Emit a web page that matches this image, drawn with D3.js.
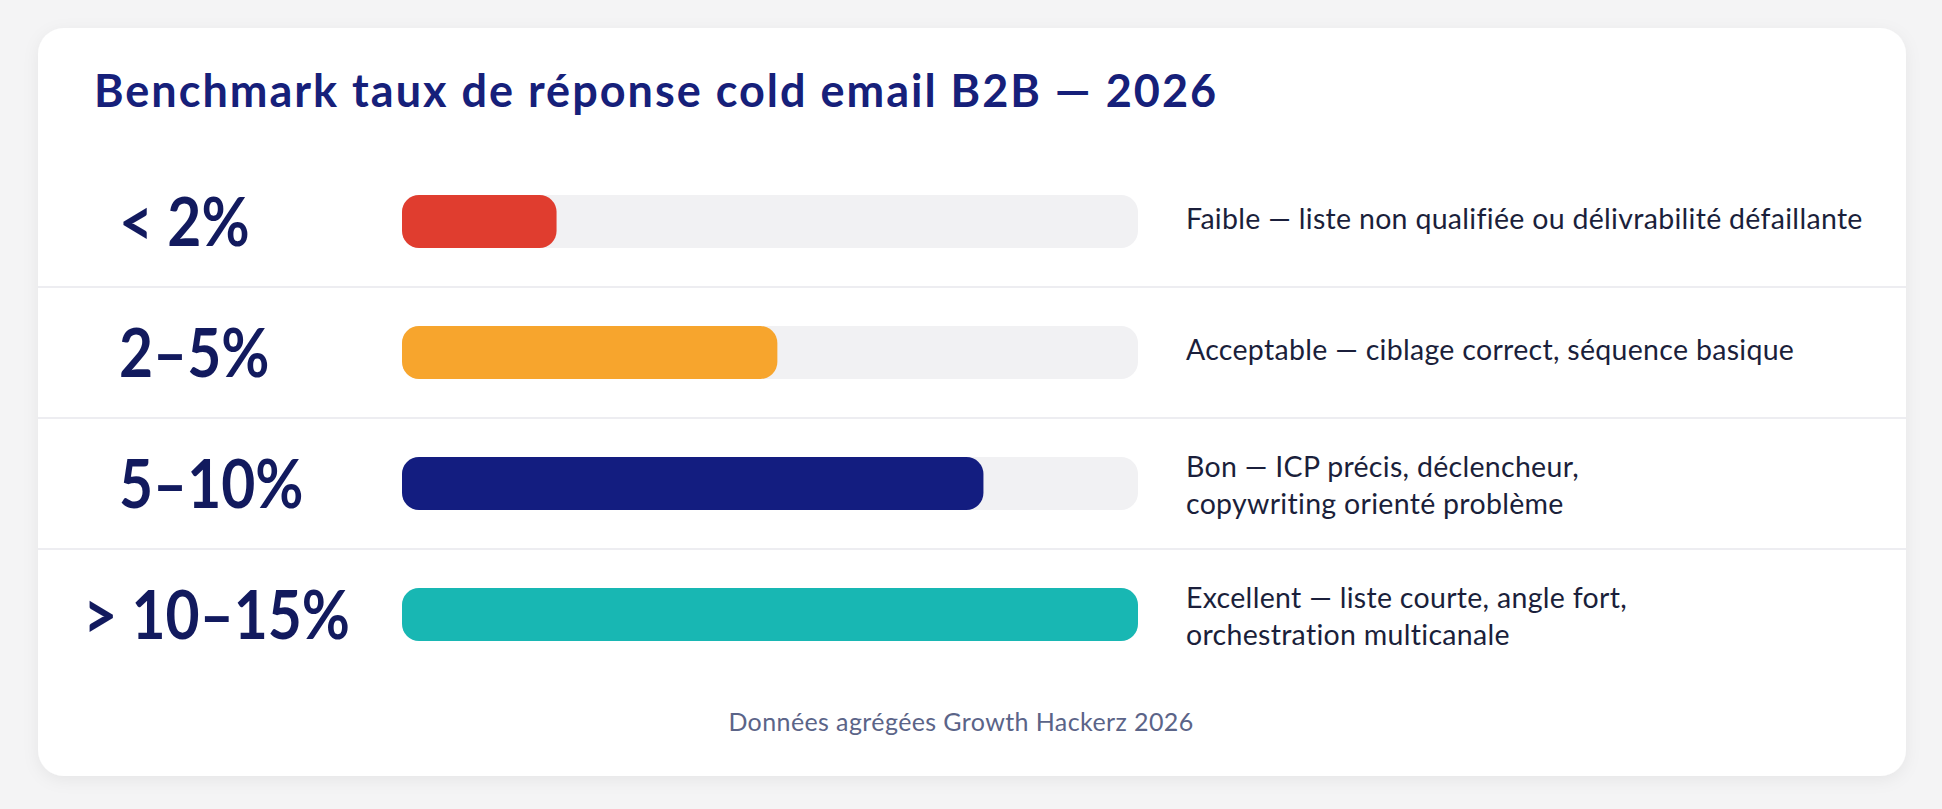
<!DOCTYPE html>
<html>
<head>
<meta charset="utf-8">
<script src="https://cdn.jsdelivr.net/npm/d3@7"></script>
<style>
  html, body { margin: 0; padding: 0; background: #f4f4f5; }
  svg { display: block; }
</style>
</head>
<body>
<svg id="chart"></svg>
<script>
// data
const ranges = ["< 2%", "2–5%", "5–10%", "> 10–15%"];
const scores = [21, 51, 79, 100];   // bar fill, out of 100
const barColors = ["#e03d2f", "#f7a52d", "#131d80", "#18b7b3"];
const notes = [
  ["Faible — liste non qualifiée ou délivrabilité défaillante"],
  ["Acceptable — ciblage correct, séquence basique"],
  ["Bon — ICP précis, déclencheur,", "copywriting orienté problème"],
  ["Excellent — liste courte, angle fort,", "orchestration multicanale"]
];
const title = "Benchmark taux de réponse cold email B2B — 2026";
const source = "Données agrégées Growth Hackerz 2026";

const W = 1942, H = 809;
const card = { x: 38, y: 28, w: 1868, h: 748, r: 26 };

const svg = d3.select("#chart")
  .attr("width", W)
  .attr("height", H);

const defs = svg.append("defs");
const f = defs.append("filter")
  .attr("id", "shadow")
  .attr("x", "-5%").attr("y", "-5%")
  .attr("width", "110%").attr("height", "115%");
f.append("feDropShadow")
  .attr("dx", 0).attr("dy", 4)
  .attr("stdDeviation", 8)
  .attr("flood-color", "#000")
  .attr("flood-opacity", 0.06);

svg.append("rect")
  .attr("x", card.x).attr("y", card.y)
  .attr("width", card.w).attr("height", card.h)
  .attr("rx", card.r)
  .attr("fill", "#ffffff")
  .attr("filter", "url(#shadow)");

svg.append("text")
  .attr("x", 94)
  .attr("y", 107)
  .attr("font-family", "Lato")
  .attr("font-weight", 700)
  .attr("font-size", 45)
  .attr("letter-spacing", 2)
  .attr("fill", "#16207a")
  .text(title);

// scales
const yScale = d3.scaleBand()
  .domain(ranges)
  .range([156, 680]);

const xScale = d3.scaleLinear()
  .domain([0, 100])
  .range([402, 1138]);

const barH = 53;
const rows = ranges.map((d, i) => ({ label: d, score: scores[i], color: barColors[i], note: notes[i] }));

// row separators
svg.selectAll(".sep")
  .data(ranges.slice(1))
  .join("line")
    .attr("class", "sep")
    .attr("x1", card.x).attr("x2", card.x + card.w)
    .attr("y1", d => yScale(d))
    .attr("y2", d => yScale(d))
    .attr("stroke", "#ededf1")
    .attr("stroke-width", 2);

const row = svg.selectAll(".row")
  .data(rows)
  .join("g")
    .attr("class", "row")
    .attr("transform", d => `translate(0,${yScale(d.label) + yScale.bandwidth() / 2})`);

// range labels, a bit condensed; pushed left when too wide for the column
const squeeze = 0.89;
row.append("text")
  .attr("font-family", "Lato")
  .attr("font-weight", 700)
  .attr("font-size", 66)
  .attr("fill", "#121a5e")
  .text(d => d.label)
  .attr("transform", function() {
    const w = this.getComputedTextLength() * squeeze;
    const x = Math.min(119, 350 - w);
    return `translate(${x},24) scale(${squeeze},1)`;
  });

// track
row.append("rect")
  .attr("x", xScale(0))
  .attr("y", -barH / 2)
  .attr("width", xScale(100) - xScale(0))
  .attr("height", barH)
  .attr("rx", 17)
  .attr("fill", "#f1f1f3");

row.append("rect")
  .attr("x", xScale(0))
  .attr("y", -barH / 2)
  .attr("width", d => xScale(d.score) - xScale(0))
  .attr("height", barH)
  .attr("rx", 17)
  .attr("fill", d => d.color);

const note = row.append("text")
  .attr("font-family", "Lato")
  .attr("font-size", 28.5)
  .attr("letter-spacing", 0.3)
  .attr("fill", "#1b1f3b");

note.selectAll("tspan")
  .data(d => d.note.map((t, i, a) => ({ t, i, n: a.length })))
  .join("tspan")
    .attr("x", 1186)
    .attr("y", d => d.n === 1 ? 7 : -7 + d.i * 37)
    .text(d => d.t);

svg.append("text")
  .attr("x", card.x + card.w / 2 - 11)
  .attr("y", 731)
  .attr("text-anchor", "middle")
  .attr("font-family", "Lato")
  .attr("font-size", 25)
  .attr("letter-spacing", 0.4)
  .attr("fill", "#5b6488")
  .text(source);
</script>
</body>
</html>
